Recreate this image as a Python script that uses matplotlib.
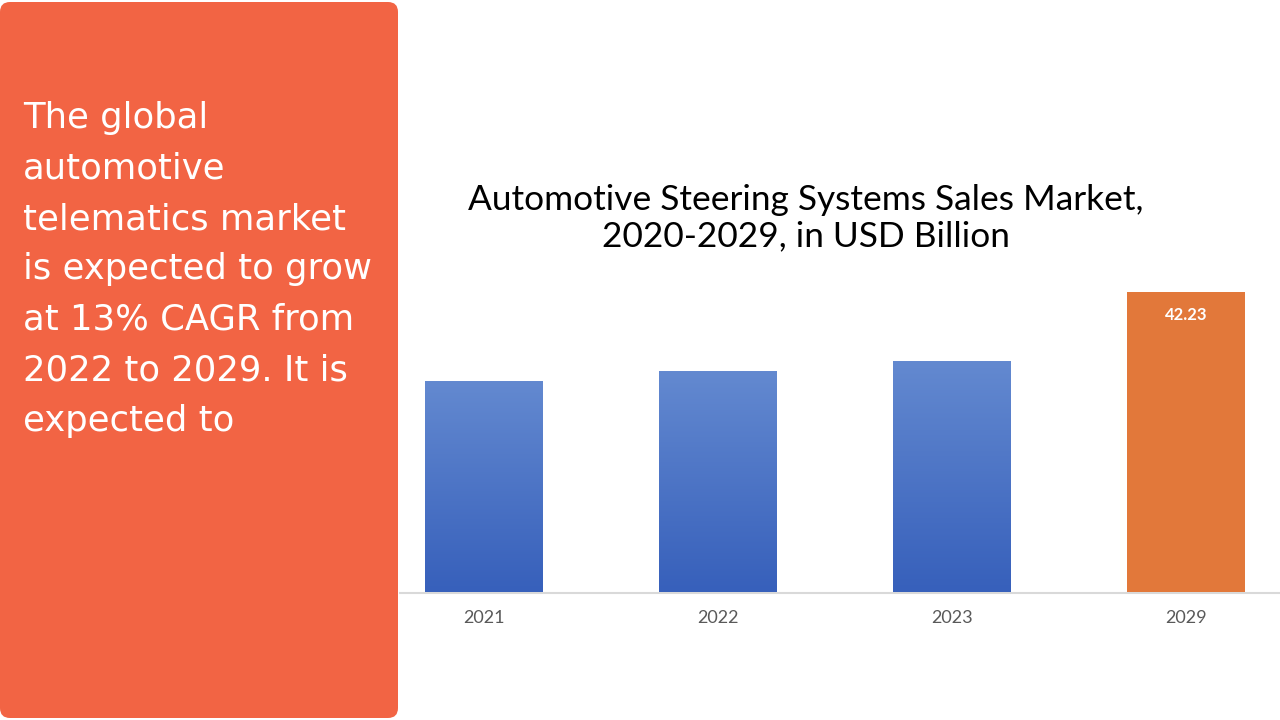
import matplotlib
matplotlib.use("Agg")
import matplotlib.pyplot as plt
import numpy as np
from matplotlib.patches import FancyBboxPatch
from matplotlib.colors import LinearSegmentedColormap

years = ["2021", "2022", "2023", "2029"]
values = [29.7, 31.1, 32.5, 42.23]
label_text = "42.23"
title = "Automotive Steering Systems Sales Market,\n2020-2029, in USD Billion"
panel_lines = ["The global", "automotive", "telematics market", "is expected to grow",
               "at 13% CAGR from", "2022 to 2029. It is", "expected to"]

fig = plt.figure(figsize=(12.8, 7.2), dpi=100)
fig.patch.set_facecolor("white")

pa = fig.add_axes([0, 0, 1, 1]); pa.set_xlim(0, 1280); pa.set_ylim(720, 0); pa.axis("off")
pa.add_patch(FancyBboxPatch((0, 2), 398, 716, boxstyle="round,pad=0,rounding_size=10",
                            fc="#f26444", ec="none"))
for i, t in enumerate(panel_lines):
    pa.text(23, 118 + 50.5 * i, t, color="white", fontsize=25.5, family="DejaVu Sans",
            va="center", ha="left")
pa.text(806, 218, title, ha="center", va="center", fontsize=25.4, family="Lato",
        linespacing=1.15, color="black")
pa.plot([400, 1280], [593, 593], color="#d9d9d9", lw=1.5)

ax = fig.add_axes([400/1280, 1-592/720, 880/1280, 300/720])
ax.axis("off")
w = 0.504
grad = np.linspace(0, 1, 100).reshape(-1, 1)
cm = LinearSegmentedColormap.from_list("b", ["#3760bb", "#6389d0"])
for i, v in enumerate(values):
    if i < 3:
        ax.imshow(grad, extent=[i - w/2, i + w/2, 0, v], origin="lower", cmap=cm,
                  aspect="auto", zorder=2)
    else:
        ax.bar(i, v, width=w, color="#e2783a", zorder=2)
        ax.text(i, v - 3.2, label_text, ha="center", va="center", color="white",
                fontsize=12, fontweight="bold", family="Lato")
    ax.text(i, -3.6, years[i], ha="center", va="center", fontsize=13, color="#595959",
            family="Lato")
ax.set_xlim(-84/234, 796/234); ax.set_ylim(0, 42.23)
fig.savefig("out.png", dpi=100)
